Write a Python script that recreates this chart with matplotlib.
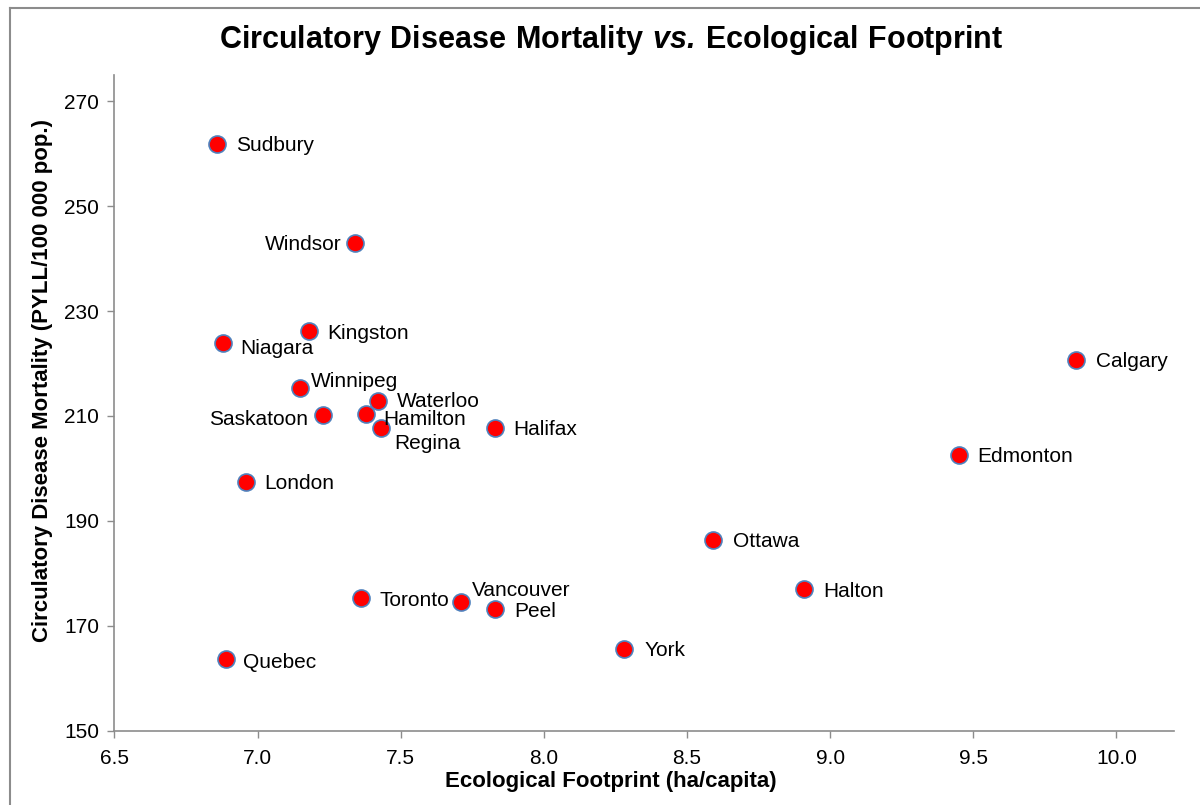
import matplotlib
matplotlib.use("Agg")
import matplotlib.pyplot as plt
from matplotlib.lines import Line2D

plt.rcParams['font.family'] = ['Liberation Sans', 'DejaVu Sans']
plt.rcParams['mathtext.fontset'] = 'custom'
plt.rcParams['mathtext.rm'] = 'Liberation Sans'
plt.rcParams['mathtext.bf'] = 'Liberation Sans:bold'
plt.rcParams['mathtext.bfit'] = 'Liberation Sans:italic:bold'

# data
cities = ["Sudbury", "Windsor", "Kingston", "Niagara", "Calgary", "Winnipeg", "Waterloo",
          "Saskatoon", "Hamilton", "Regina", "Halifax", "Edmonton", "London", "Ottawa",
          "Halton", "Toronto", "Vancouver", "Peel", "York", "Quebec"]
footprint = [6.86, 7.34, 7.18, 6.88, 9.86, 7.15, 7.42, 7.23, 7.38, 7.43, 7.83, 9.45,
             6.96, 8.59, 8.91, 7.36, 7.71, 7.83, 8.28, 6.89]
mortality = [261.8, 242.9, 226.2, 223.9, 220.6, 215.4, 212.9, 210.2, 210.4, 207.7, 207.7,
             202.6, 197.4, 186.3, 177.0, 175.3, 174.5, 173.2, 165.6, 163.6]

# label offsets (points) and alignment
offsets = {"Sudbury": (13.5, -1, "left"), "Windsor": (-9.5, -0.5, "right"), "Kingston": (13, -2, "left"),
           "Niagara": (12, -4, "left"), "Calgary": (14, -1, "left"), "Winnipeg": (7.5, 4.5, "left"),
           "Waterloo": (14, -0.5, "left"), "Saskatoon": (-11, -3, "right"), "Hamilton": (12, -4, "left"),
           "Regina": (10, -11, "left"), "Halifax": (13, -1, "left"), "Edmonton": (13.5, -1, "left"),
           "London": (13, -1, "left"), "Ottawa": (14.5, -1, "left"), "Halton": (14, -1.5, "left"),
           "Toronto": (13.5, -1.5, "left"), "Vancouver": (8, 8.5, "left"), "Peel": (13.5, -1.5, "left"),
           "York": (14.5, -1, "left"), "Quebec": (12, -2, "left")}

fig = plt.figure(figsize=(12, 8.05), dpi=100)
ax = fig.add_axes([0.0953, 0.0923, 0.8827, 0.8145])

ax.scatter(footprint, mortality, s=150, color="#ff0000", edgecolors="#4f81bd",
           linewidths=1.2, zorder=3)
for name, x, y in zip(cities, footprint, mortality):
    dx, dy, ha = offsets[name]
    ax.annotate(name, (x, y), xytext=(dx, dy), textcoords="offset points",
                ha=ha, va="center", fontsize=15, color="black")

ax.set_xlim(6.5, 10.2)
ax.set_ylim(150, 275)
ax.set_xticks([6.5, 7.0, 7.5, 8.0, 8.5, 9.0, 9.5, 10.0])
ax.set_xticklabels(["6.5", "7.0", "7.5", "8.0", "8.5", "9.0", "9.5", "10.0"])
ax.set_yticks([150, 170, 190, 210, 230, 250, 270])

for s in ["top", "right"]:
    ax.spines[s].set_visible(False)
for s in ["left", "bottom"]:
    ax.spines[s].set_color("#8c8c8c")
    ax.spines[s].set_linewidth(1.2)
ax.tick_params(axis="both", direction="out", length=5, width=1, color="#8c8c8c",
               labelsize=15, pad=6)
ax.tick_params(axis="x", pad=8)

fig.text(611 / 1200, 1 - 781 / 805, "Ecological Footprint (ha/capita)",
         ha="center", va="center", fontsize=16, fontweight="bold")
fig.text(43 / 1200, 1 - 380 / 805, "Circulatory Disease Mortality (PYLL/100 000 pop.)",
         ha="center", va="center", rotation=90, fontsize=16, fontweight="bold")

fig.text(611 / 1200, 1 - 40 / 805,
         r"$\mathbf{Circulatory\ Disease\ Mortality}\ \mathbfit{vs.}\,\mathbf{Ecological\ Footprint}$",
         ha="center", va="center", fontsize=22)

# outer chart border
fig.add_artist(Line2D([10 / 1200, 10 / 1200], [0, 1 - 8 / 805], color="#8c8c8c", lw=1.5))
fig.add_artist(Line2D([10 / 1200, 1], [1 - 8 / 805, 1 - 8 / 805], color="#8c8c8c", lw=1.5))

fig.savefig("out.png", dpi=100, facecolor="white")
